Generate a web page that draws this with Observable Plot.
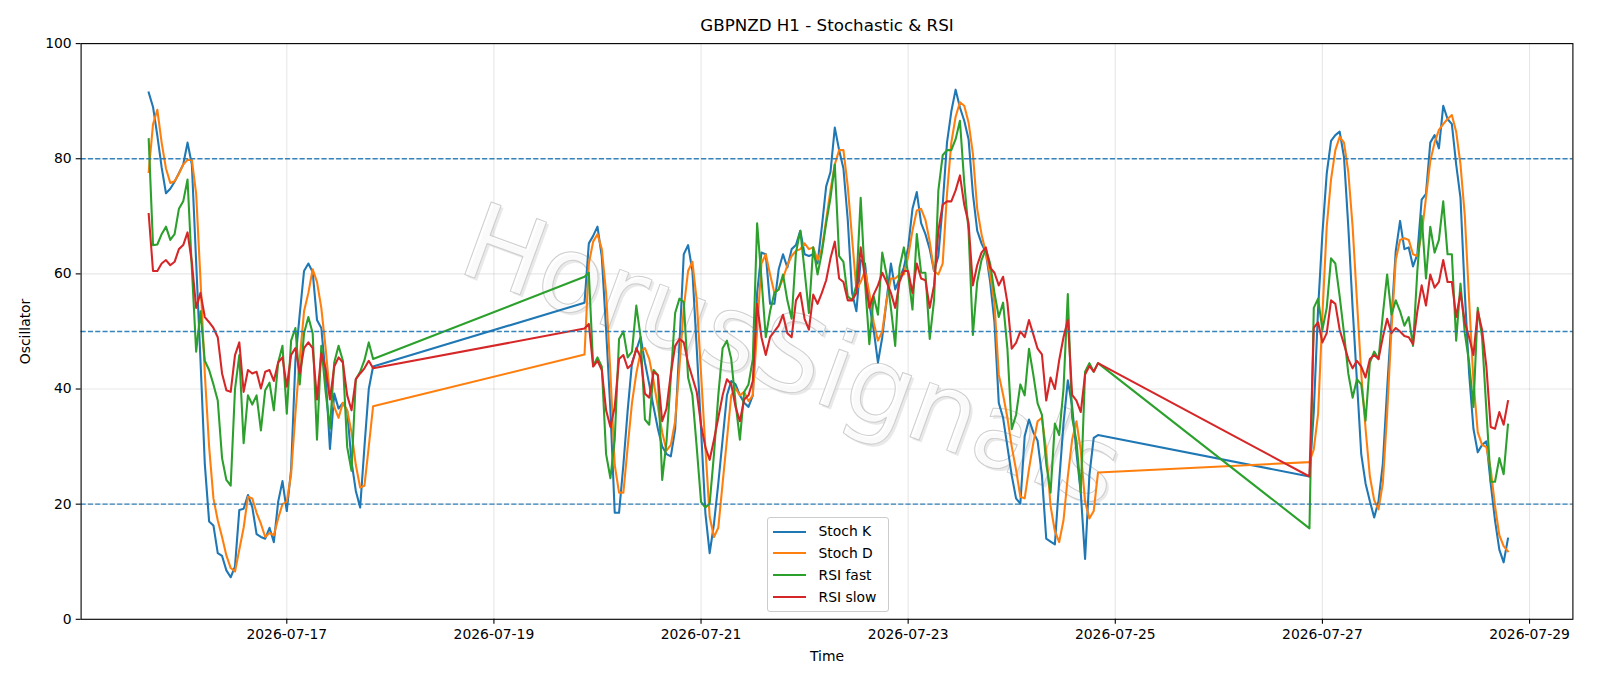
<!DOCTYPE html>
<html>
<head>
<meta charset="utf-8">
<script src="https://cdn.jsdelivr.net/npm/d3@7"></script>
<script src="https://cdn.jsdelivr.net/npm/@observablehq/plot@0.6"></script>
<style>
  html, body { margin: 0; padding: 0; background: #ffffff; }
  #wrap { position: relative; width: 1600px; height: 686px; font-family: "DejaVu Sans", sans-serif; }
  #legend { position: absolute; left: 766.5px; top: 517px; width: 122.5px; height: 94.5px; box-sizing: border-box;
            border: 1px solid #cccccc; border-radius: 3px; background: rgba(255,255,255,0.8); }
  .lg-line { position: absolute; left: 5.8px; width: 32.7px; height: 2.1px; }
  .lg-text { position: absolute; left: 51px; font-size: 13.9px; line-height: 16px; color: #000; white-space: nowrap; }
</style>
</head>
<body>
<div id="wrap"></div>
<script>
// ---- chart text ----
const chartTitle = "GBPNZD H1 - Stochastic & RSI";
const yLabel = "Oscillator";
const xLabel = "Time";
const watermark = "HorusSignals";

// ---- series ----
const seriesNames = ["Stoch K", "Stoch D", "RSI fast", "RSI slow"];
const seriesColors = ["#1f77b4", "#ff7f0e", "#2ca02c", "#d62728"];

// hourly bars, three trading segments (weekends skipped)
const segmentStarts = ["2026-07-15T16:00:00Z", "2026-07-19T21:00:00Z", "2026-07-26T21:00:00Z"];
const segmentLengths = [53, 120, 47];

const stochK = [
  // segment 1
  91.5,89,84,78.5,74,74.8,76,77.5,79,82.8,
  79,62,45,27,17,16.3,11.5,11,8.5,7.3,
  9.2,19,19.2,21.6,19.5,14.8,14.3,14,15.9,13.4,
  20.4,24,18.8,26,45,53,60.5,61.8,60.3,52,
  50.6,42.4,29.6,39.2,36.6,37.6,36.2,27.4,22.3,19.4,
  30,40,43.9,
  // segment 2
  55,65.3,66.6,68.2,63,50.3,36.3,18.5,18.5,26.8,
  36.3,44.6,46.8,49,44.6,40.8,36.9,33.1,30,28.7,
  28.3,33,47.8,63.4,65,60.5,47.1,33.1,18.5,11.5,
  16.6,23.6,31.2,38.9,41.4,40.8,38.9,37.6,36.9,38.9,
  56.7,63.7,63.4,54.8,54.8,60.8,63.4,61.1,64.3,65,
  67.5,63.4,63.1,63.4,61.8,68.2,75.2,77.7,85.4,81.5,
  78.3,69.4,56.7,53.5,62.4,61.8,54.8,50.3,44.6,49,
  55.4,61.8,57.3,59.2,61.1,64.6,71.3,74.2,68.8,66.9,
  64.3,60.5,63.1,72,82.8,88.2,92,88.9,86.6,83.4,
  73.9,67.5,65.3,63.7,58.6,51.6,37.6,35,30,25,
  21,20.1,31.8,34.7,32.5,31,25,14,13.5,13,
  24,34,41.5,37,29,22,10.5,25,31.5,32,
  // segment 3
  24.8,36,54,67,77.4,83.1,84.1,84.7,80.3,68.2,
  54.1,41.4,28.7,23.6,20.5,17.7,20.5,27,40,52,
  64,69.2,64.3,64.6,61.3,63.4,72.9,73.9,82.8,84.1,
  81.8,89.2,86.9,86,79,73.2,56.7,42.7,33.1,29,
  30.3,30.9,23.6,17.2,12.1,9.9,14
];

const stochD = [
  77.7,86,88.5,82.8,78.3,75.8,76.1,77.4,79,79.8,
  79.8,73.9,59,42.7,30,21,17.2,14.3,11.1,8.9,
  8.3,12.1,15.9,21.3,21,18.5,16.6,14.3,15,14.6,
  17.5,20,20.4,25.2,35.7,45.2,53.5,56.7,60.8,58.6,
  54.1,47.1,38.9,36.9,35,37.6,36.3,32.5,26.8,22.9,
  23.2,30,37,
  46,61.8,65.6,66.9,64.3,56.7,42.7,26.8,22,22,
  29.9,37.6,42.7,46.5,47.1,45.2,41.4,36.9,32.5,29.3,
  30.3,34.4,43.9,54.1,60.5,62.1,55.4,42.7,29.9,17.8,
  14.3,15.9,23.6,31.2,38.9,40.1,38.9,39.5,37.9,38.9,
  50.3,61.8,63.4,59.9,56.7,57.3,59.2,61.5,63.1,64,
  64.3,65.3,64.3,64.6,62.4,64.3,69.4,74.5,79,81.5,
  81.5,75.2,66.2,57.3,58.6,60.5,56.7,51.6,48.4,50,
  55.4,59.2,59.2,59.9,59.9,63,67.5,71,71.3,69.4,
  65.6,60.5,59.9,61.8,73.9,82.8,87.3,89.8,89.2,86.3,
  80.9,71.3,66.9,63.7,59.9,54.8,42.5,39,35,30,
  26,21.3,21,26.1,30.6,34.4,35,29.3,19.7,15.3,
  13.4,17.2,24.8,31.2,34.4,29.3,20.4,17.5,18.8,25.5,
  27.3,29.5,35.7,52.9,68.2,76.4,81.5,83.8,82.8,77.7,
  68.2,55.4,42.7,33.1,24.8,20.7,19.1,23.6,35.7,50.3,
  62.4,65.9,66.2,65.9,63.4,63.1,66.9,73.2,79.6,82.8,
  85,86,86.9,87.6,84.7,79,70.1,55.4,41.4,32.5,
  30.3,29.9,26.1,19.7,14.6,12.7,11.8
];

const rsiFast = [
  83.4,65,65.1,66.9,68.2,65.9,66.9,71.3,72.6,76.4,
  61,46.5,53.5,44.9,43.3,40.8,38,28,24.2,23.2,
  40,45.9,30.6,38.9,37.3,38.9,32.8,39.8,41.1,36.3,
  44.6,47.5,35.7,48.4,50.6,40.8,49.7,52.5,49.7,31.2,
  47.5,39.5,33.1,44.6,47.5,44.9,29.9,25.8,41.7,43,
  45,48.1,45.2,
  59.5,60.2,44,45.5,43.9,28.7,24.5,31.2,48.7,50,
  45.5,46.5,54.5,49,34.7,33.8,43.3,42.4,24.2,30.9,
  42,53.2,55.7,55.1,42,38.9,29.9,20.4,19.4,20.1,
  28.7,38.9,47.1,48.4,45.2,37.6,31.2,39.5,40.8,45.2,
  68.8,59.2,49,53.5,56.7,57.3,59.9,55.4,52.2,63.7,
  67.5,60.5,53.2,64.6,59.9,63.7,68.8,73.2,79,63.1,
  62.1,56.1,55.4,58,73.2,58.6,47.8,56.1,52.9,63.7,
  59.9,54.1,47.5,61.1,64.6,60,53.8,66.9,60.2,60.2,
  48.7,55.4,74.5,80.6,81.5,81.5,83.4,86.6,75.8,67.5,
  49.4,58.6,62.4,64.3,61.8,56.7,52.5,55,47,33,
  35.5,40.8,38.9,47,42.5,37.5,35.5,27,22,34,
  32,40,56.5,35,31,22,43,44.5,43,44.5,
  15.8,54.1,55.7,50.3,54.1,62.7,61.8,56.1,49.7,42.7,
  38.5,41.7,40.8,34.5,44.6,46.5,45.2,52.9,59.9,52.9,
  55.4,53.5,51,52.5,47.5,60.5,70.1,59.2,68.2,63.7,
  65.9,72.6,63.4,63.4,48.4,58.3,49.7,44.6,36.9,54.1,
  49,36.3,23.9,23.9,28,25.2,33.8
];

const rsiSlow = [
  70.4,60.5,60.5,61.8,62.4,61.5,62.1,64.3,65,67.2,
  62,54.1,56.7,52.5,51.6,50.6,49,42.7,39.8,39.5,
  45.9,48.1,39.5,43.3,42.7,43,40.1,43,43.3,41.4,
  44.6,45.5,40.4,45.9,47.1,42.7,47.1,48.1,47.1,38.2,
  46.2,43.6,38.2,43.9,45.5,44.6,38.9,36.3,41.7,42.7,
  43.6,44.9,43.6,
  50.5,51.3,43.9,44.9,43.3,36.3,33.4,36.9,45.2,45.9,
  43.6,44.3,47.1,45.5,39.2,38.5,43,42.4,34.4,36.6,
  42.7,47.5,48.7,48.1,44.5,42,39.5,33.8,29.9,27.7,
  31.2,35,38.9,41.7,40.8,36.9,34.4,38.2,38.9,41.4,
  54.8,49,45.9,49,50,51,52.9,49.7,49,55.4,
  56.7,52.2,50.3,56.4,54.8,56.7,58.9,62.7,65.6,59.2,
  58.6,55.4,55.4,56.7,64.6,59.2,54.1,56.4,58,60.2,
  58.6,56.7,54.1,58.6,60.5,60.5,56.7,61.8,59.2,58.9,
  54.1,58,67.5,72,72.6,72.6,74.5,77.1,72,68.8,
  58,61.5,63.7,64.6,61.1,60.2,58,59.5,55,47,
  48,50,49,52,49.5,47,46,38,42,40,
  45,49,52,39,38,36,42.5,44,43,44.5,
  24.8,50.6,51.6,48.1,49.7,55.4,54.8,50.3,47.8,45.2,
  43.6,44.9,43.9,42,45.2,45.9,45.2,49,52.2,49.7,
  50.6,50,49.2,49,47.8,53.5,58,54.5,59.9,57.6,
  58.6,62.4,58.6,58.6,52.5,56.7,51.6,49,45.9,53.5,
  50.3,43.9,33.4,33.1,36,33.8,37.9
];

// ---- reference levels and axes ----
const levelLines = [20, 50, 80];
const yTicks = [0, 20, 40, 60, 80, 100];
const xTickLabels = ["2026-07-17", "2026-07-19", "2026-07-21", "2026-07-23", "2026-07-25", "2026-07-27", "2026-07-29"];
const xDomain = ["2026-07-15T00:20:00Z", "2026-07-29T10:03:00Z"];

// ---- build table ----
const times = [];
segmentStarts.forEach((s, i) => {
  const t0 = new Date(s).getTime();
  for (let k = 0; k < segmentLengths[i]; k++) times.push(new Date(t0 + k * 3600e3));
});
const seriesValues = [stochK, stochD, rsiFast, rsiSlow];
const rows = seriesValues.map((vals, si) => vals.map((v, i) => ({t: times[i], v, s: seriesNames[si]})));
const xTicks = xTickLabels.map(d => new Date(d + "T00:00:00Z"));

const lineMarks = rows.map((data, si) =>
  Plot.line(data, {x: "t", y: "v", stroke: seriesColors[si], strokeWidth: 2.08, strokeLinejoin: "round", strokeLinecap: "square"}));

const chart = Plot.plot({
  width: 1600,
  height: 686,
  marginLeft: 80.6,
  marginRight: 27.6,
  marginTop: 43.1,
  marginBottom: 67.2,
  style: {fontFamily: "DejaVu Sans", fontSize: "13.9px", color: "black", background: "white", overflow: "visible"},
  x: {type: "utc", domain: xDomain.map(d => new Date(d))},
  y: {domain: [0, 100]},
  marks: [
    Plot.gridX(xTicks, {stroke: "#b0b0b0", strokeOpacity: 0.3, strokeWidth: 1.1}),
    Plot.gridY(yTicks, {stroke: "#b0b0b0", strokeOpacity: 0.3, strokeWidth: 1.1}),
    Plot.text([watermark], {frameAnchor: "middle", textAnchor: "middle", lineAnchor: "middle", dx: -33, dy: 28.5, rotate: 20, fontSize: 106,
      fill: "#cfcfcf", fillOpacity: 0.45}),
    Plot.text([watermark], {frameAnchor: "middle", textAnchor: "middle", lineAnchor: "middle", dx: -35.5, dy: 26, rotate: 20, fontSize: 106,
      fill: "#ffffff", fillOpacity: 0.75, stroke: "#c6c6c6", strokeWidth: 1, strokeOpacity: 0.85, paintOrder: "normal"}),
    ...lineMarks,
    Plot.ruleY(levelLines, {stroke: "#1f77b4", strokeOpacity: 0.9, strokeWidth: 1.4, strokeDasharray: "5.1,2.2"}),
    Plot.axisX(xTicks, {tickSize: 4.9, tickPadding: 4.5, tickFormat: d3.utcFormat("%Y-%m-%d"), label: null, fontSize: 13.9, strokeWidth: 1.1}),
    Plot.axisY(yTicks, {tickSize: 4.9, tickPadding: 4.5, label: null, fontSize: 13.9, strokeWidth: 1.1}),
    Plot.frame({stroke: "black", strokeWidth: 1.1}),
    Plot.text([chartTitle], {frameAnchor: "top", textAnchor: "middle", lineAnchor: "middle", dy: -17.6, fontSize: 16.7, fill: "black"}),
    Plot.text([yLabel], {frameAnchor: "left", textAnchor: "middle", lineAnchor: "middle", dx: -55.1, rotate: -90, fontSize: 13.9, fill: "black"}),
    Plot.text([xLabel], {frameAnchor: "bottom", textAnchor: "middle", lineAnchor: "middle", dy: 37.5, fontSize: 13.9, fill: "black"})
  ]
});

const wrap = document.getElementById("wrap");
wrap.appendChild(chart);

// legend (matplotlib-style box inside the axes)
const legend = document.createElement("div");
legend.id = "legend";
const legendRows = [13.7, 35.3, 57.3, 79];
seriesNames.forEach((name, i) => {
  const ln = document.createElement("div");
  ln.className = "lg-line";
  ln.style.top = (legendRows[i] - 1.05) + "px";
  ln.style.background = seriesColors[i];
  legend.appendChild(ln);
  const tx = document.createElement("div");
  tx.className = "lg-text";
  tx.style.top = (legendRows[i] - 8.5) + "px";
  tx.textContent = name;
  legend.appendChild(tx);
});
wrap.appendChild(legend);
</script>
</body>
</html>
